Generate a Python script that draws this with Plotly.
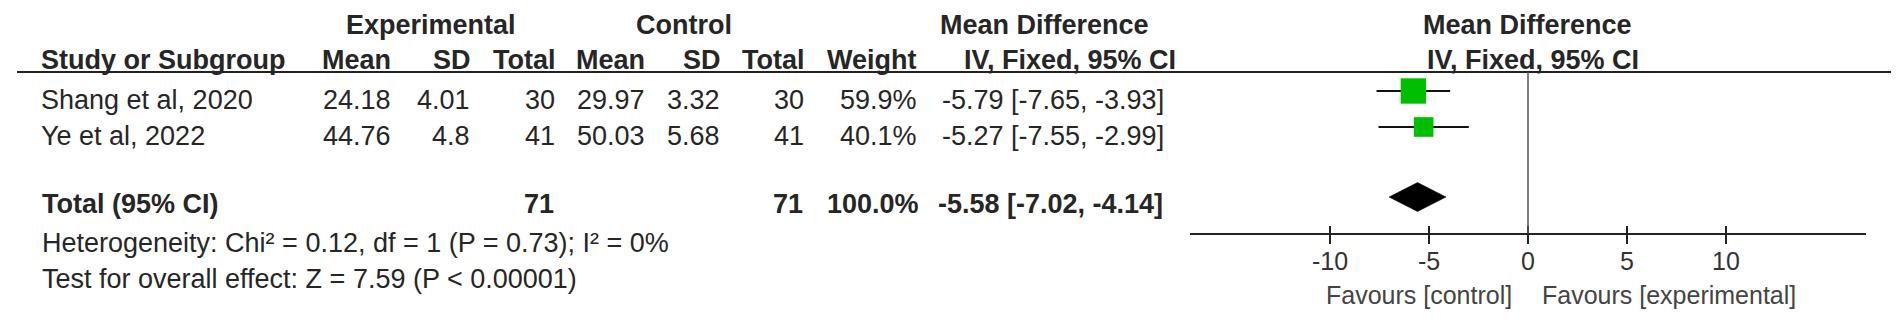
import plotly.graph_objects as go

# ---------------- data ----------------
studies = ["Shang et al, 2020", "Ye et al, 2022"]
exp_mean = [24.18, 44.76]
exp_sd = [4.01, 4.8]
exp_n = [30, 41]
ctrl_mean = [29.97, 50.03]
ctrl_sd = [3.32, 5.68]
ctrl_n = [30, 41]
weight = [59.9, 40.1]
md = [-5.79, -5.27]
ci_lo = [-7.65, -7.55]
ci_hi = [-3.93, -2.99]

total_label = "Total (95% CI)"
total_exp_n = 71
total_ctrl_n = 71
total_weight = 100.0
total_md = -5.58
total_lo = -7.02
total_hi = -4.14

heterogeneity = "Heterogeneity: Chi² = 0.12, df = 1 (P = 0.73); I² = 0%"
overall = "Test for overall effect: Z = 7.59 (P < 0.00001)"

tick_vals = [-10, -5, 0, 5, 10]
tick_text = ["-10", "-5", "0", "5", "10"]
favours_left = "Favours [control]"
favours_right = "Favours [experimental]"

# ---------------- layout geometry (pixels) ----------------
W, H = 1902, 322
AX_L, AX_R, AX_Y = 1190, 1866, 233
X_HALF = 17.07
FONT = "Liberation Sans, Arial, sans-serif"
TXT = "#262626"
GREEN = "#00BF00"

row_text_y = [100, 136]
row_mark_y = [91, 127]
total_text_y = 204
total_mark_y = 197
hdr1_y, hdr2_y = 25, 60
het_y, test_y = 243, 279

fig = go.Figure()

# CI lines
for lo, hi, ry in zip(ci_lo, ci_hi, row_mark_y):
    fig.add_trace(go.Scatter(x=[lo, hi], y=[ry, ry], mode="lines",
                             line=dict(color="#111111", width=2),
                             hoverinfo="skip", xaxis="x", yaxis="y"))
# weighted squares
fig.add_trace(go.Scatter(x=md, y=row_mark_y, mode="markers",
                         marker=dict(symbol="square", color=GREEN, opacity=1,
                                     size=[8 + 0.29 * w for w in weight],
                                     line=dict(width=0)),
                         xaxis="x", yaxis="y"))
# pooled diamond
dh = 14.5
fig.add_trace(go.Scatter(x=[total_lo, total_md, total_hi, total_md, total_lo],
                         y=[total_mark_y, total_mark_y - dh, total_mark_y,
                            total_mark_y + dh, total_mark_y],
                         mode="lines", fill="toself", fillcolor="#000000",
                         line=dict(color="#000000", width=0.5),
                         xaxis="x", yaxis="y"))

# ---------------- text helpers ----------------
ann = []


def txt(s, px, py, anchor="left", bold=False, size=27, color=TXT):
    ann.append(dict(text=("<b>%s</b>" % s) if bold else s,
                    x=px / W, y=1 - py / H, xref="paper", yref="paper",
                    xanchor=anchor, yanchor="middle", showarrow=False,
                    font=dict(family=FONT, size=size, color=color)))


# header row 1
txt("Experimental", 431, hdr1_y, "center", True)
txt("Control", 684, hdr1_y, "center", True)
txt("Mean Difference", 1044, hdr1_y, "center", True)
txt("Mean Difference", 1527, hdr1_y, "center", True)
# header row 2
txt("Study or Subgroup", 39, hdr2_y, "left", True)
for s, px in [("Mean", 393), ("SD", 473), ("Total", 558), ("Mean", 647),
              ("SD", 723), ("Total", 807), ("Weight", 919),
              ("IV, Fixed, 95% CI", 1178)]:
    txt(s, px, hdr2_y, "right", True)
txt("IV, Fixed, 95% CI", 1533, hdr2_y, "center", True)

# study rows
for i, ry in enumerate(row_text_y):
    txt(studies[i], 39, ry, "left")
    txt(f"{exp_mean[i]:g}", 393, ry, "right")
    txt(f"{exp_sd[i]:g}", 472, ry, "right")
    txt(f"{exp_n[i]}", 557, ry, "right")
    txt(f"{ctrl_mean[i]:g}", 647, ry, "right")
    txt(f"{ctrl_sd[i]:g}", 722, ry, "right")
    txt(f"{ctrl_n[i]}", 806, ry, "right")
    txt(f"{weight[i]:.1f}%", 919, ry, "right")
    txt(f"{md[i]:.2f} [{ci_lo[i]:.2f}, {ci_hi[i]:.2f}]", 1166, ry, "right")

# total row
txt(total_label, 40, total_text_y, "left", True)
txt(f"{total_exp_n}", 556, total_text_y, "right", True)
txt(f"{total_ctrl_n}", 805, total_text_y, "right", True)
txt(f"{total_weight:.1f}%", 921, total_text_y, "right", True)
txt(f"{total_md:.2f} [{total_lo:.2f}, {total_hi:.2f}]", 1165, total_text_y, "right", True)

txt(heterogeneity, 40, het_y, "left")
txt(overall, 40, test_y, "left")

# favours labels (relative to zero of the effect axis)
for s, anchor, shift in [(favours_left, "right", -14), (favours_right, "left", 12)]:
    ann.append(dict(text=s, x=0, xref="x", y=1 - 295 / H, yref="paper",
                    xanchor=anchor, yanchor="middle", xshift=shift,
                    showarrow=False,
                    font=dict(family=FONT, size=25, color="#444444")))

shapes = [
    # header underline
    dict(type="line", xref="paper", yref="paper", x0=17 / W, x1=1891 / W,
         y0=1 - 72 / H, y1=1 - 72 / H, line=dict(color="#222222", width=2)),
    # line of no effect
    dict(type="line", xref="x", yref="y", x0=0, x1=0, y0=72, y1=AX_Y,
         line=dict(color="#555555", width=1.5)),
]

axis_common = dict(domain=[AX_L / W, AX_R / W], range=[-X_HALF, X_HALF],
                   tickvals=tick_vals, showgrid=False, zeroline=False,
                   fixedrange=True)

fig.update_layout(
    width=W, height=H, margin=dict(l=0, r=0, t=0, b=0),
    paper_bgcolor="white", plot_bgcolor="white", showlegend=False,
    xaxis=dict(**axis_common, anchor="y", ticktext=tick_text,
               ticks="outside", ticklen=9, tickwidth=2, tickcolor="#222222",
               showline=True, linecolor="#222222", linewidth=2,
               ticklabelstandoff=-4,
               tickfont=dict(family=FONT, size=25, color="#333333")),
    xaxis2=dict(**axis_common, anchor="y", overlaying="x", side="bottom",
                ticks="inside", ticklen=7, tickwidth=2, tickcolor="#222222",
                showticklabels=False, showline=False),
    yaxis=dict(domain=[1 - AX_Y / H, 1], range=[AX_Y, 0], visible=False,
               fixedrange=True),
    annotations=ann, shapes=shapes,
)
# invisible point so the overlay axis (ticks crossing the axis line) is drawn
fig.add_trace(go.Scatter(x=[0], y=[AX_Y], mode="markers", marker=dict(opacity=0),
                         xaxis="x2", yaxis="y", hoverinfo="skip"))

fig.write_html("out.html",
               config={"displayModeBar": False, "staticPlot": True},
               post_script="document.body.style.margin='0px';"
                           "document.body.style.overflow='hidden';")
